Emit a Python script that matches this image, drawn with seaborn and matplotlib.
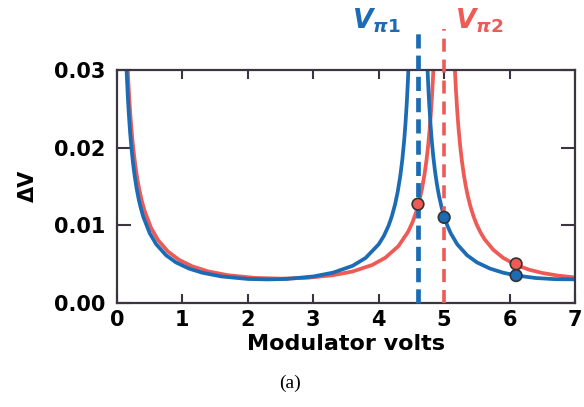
import matplotlib
matplotlib.use("Agg")
import matplotlib.pyplot as plt
import seaborn as sns
import pandas as pd

# ---- data ----
blue_x1 = [0.13, 0.15, 0.165, 0.18, 0.20, 0.22, 0.245, 0.27, 0.30, 0.33, 0.36, 0.40, 0.50, 0.60, 0.75, 0.90,
           1.10, 1.30, 1.60, 2.00, 2.30, 2.60, 3.00, 3.30, 3.60, 3.80, 4.00, 4.08, 4.15, 4.20, 4.25, 4.29,
           4.33, 4.36, 4.39, 4.41, 4.43, 4.445, 4.46, 4.48]
blue_y1 = [0.0338, 0.02935, 0.02667, 0.02447, 0.02203, 0.02004, 0.01802, 0.01636, 0.01474, 0.01342, 0.01233,
           0.01112, 0.00896, 0.00753, 0.00612, 0.00520, 0.00440, 0.00387, 0.00338, 0.00306, 0.00300, 0.00306,
           0.00338, 0.00387, 0.00475, 0.00577, 0.00753, 0.00863, 0.00991, 0.01112, 0.01267, 0.01428,
           0.01636, 0.01838, 0.02099, 0.02318, 0.02591, 0.02838, 0.03142, 0.0366]
blue_x2 = [4.72, 4.74, 4.755, 4.77, 4.79, 4.81, 4.835, 4.86, 4.89, 4.92, 4.96, 5.00, 5.05, 5.10, 5.20, 5.35,
           5.50, 5.70, 5.90, 6.10, 6.40, 6.70, 7.00]
blue_y2 = [0.0366, 0.03142, 0.02838, 0.02591, 0.02318, 0.02099, 0.01877, 0.01698, 0.01524, 0.01384, 0.01233,
           0.01112, 0.00992, 0.00896, 0.00753, 0.00612, 0.00520, 0.00440, 0.00387, 0.00351, 0.00318, 0.00303,
           0.00301]
red_x1 = [0.14, 0.16, 0.175, 0.19, 0.21, 0.23, 0.255, 0.28, 0.31, 0.34, 0.38, 0.42, 0.52, 0.63, 0.78, 0.95,
          1.15, 1.40, 1.70, 2.10, 2.50, 2.90, 3.30, 3.60, 3.90, 4.10, 4.30, 4.45, 4.52, 4.57, 4.62, 4.66,
          4.70, 4.73, 4.755, 4.78, 4.80, 4.82, 4.835, 4.85]
red_y1 = [0.0353, 0.0309, 0.02823, 0.0260, 0.02357, 0.02153, 0.01944, 0.01771, 0.01601, 0.01462, 0.01311,
          0.01189, 0.00966, 0.00804, 0.00659, 0.00552, 0.00469, 0.00402, 0.00354, 0.00320, 0.00310, 0.00320,
          0.00354, 0.00402, 0.00486, 0.00579, 0.00728, 0.00915, 0.01044, 0.01162, 0.01311, 0.01462,
          0.01654, 0.01837, 0.02022, 0.02250, 0.02472, 0.02746, 0.02995, 0.03294]
red_x2 = [5.15, 5.165, 5.18, 5.20, 5.22, 5.245, 5.27, 5.30, 5.33, 5.36, 5.40, 5.45, 5.50, 5.56, 5.62, 5.75,
          5.90, 6.10, 6.30, 6.50, 6.75, 7.00]
red_y2 = [0.03294, 0.02995, 0.02746, 0.02472, 0.02250, 0.02022, 0.01837, 0.01654, 0.01506, 0.01382, 0.01246,
          0.01111, 0.01003, 0.00899, 0.00816, 0.00683, 0.00579, 0.00486, 0.00425, 0.00383, 0.00348, 0.00326]

vpi = [4.6, 5.0]
vpi_labels = [r"$\boldsymbol{V}_{\boldsymbol{\pi}\mathbf{1}}$", r"$\boldsymbol{V}_{\boldsymbol{\pi}\mathbf{2}}$"]
marker_x = [4.6, 5.0, 6.1, 6.1]
marker_y = [0.0127, 0.0110, 0.0050, 0.0035]
marker_series = ["red", "blue", "red", "blue"]

x_ticks = [0, 1, 2, 3, 4, 5, 6, 7]
y_ticks = [0.00, 0.01, 0.02, 0.03]
y_ticklabels = ["0.00", "0.01", "0.02", "0.03"]

BLUE = "#1b6cb4"
RED = "#ee5a55"
palette = {"blue": BLUE, "red": RED}

frames = []
for xs, ys, s, seg in [(blue_x1, blue_y1, "blue", "b1"), (blue_x2, blue_y2, "blue", "b2"),
                       (red_x1, red_y1, "red", "r1"), (red_x2, red_y2, "red", "r2")]:
    frames.append(pd.DataFrame({"x": xs, "y": ys, "series": s, "seg": seg}))
df = pd.concat(frames, ignore_index=True)
mk = pd.DataFrame({"x": marker_x, "y": marker_y, "series": marker_series})

sns.set_style("ticks")
plt.rcParams["font.family"] = ["DejaVu Sans"]
plt.rcParams["text.color"] = "black"
plt.rcParams["axes.labelcolor"] = "black"
plt.rcParams["xtick.labelcolor"] = "black"
plt.rcParams["ytick.labelcolor"] = "black"

fig = plt.figure(figsize=(5.84, 4.07), dpi=100)
ax = fig.add_axes([0.2003, 0.2563, 0.7843, 0.5717])

# draw red first then blue on top
for s in ["red", "blue"]:
    sub = df[df.series == s]
    sns.lineplot(data=sub, x="x", y="y", units="seg", estimator=None, sort=False,
                 color=palette[s], lw=2.7, ax=ax, legend=False)

# dashed V_pi lines extending above the axes
for v, c in zip(vpi, [BLUE, RED]):
    ax.plot([v, v], [0, 0.0353], color=c, lw=3.4 if c == BLUE else 2.6,
            dashes=(3.0, 1.5) if c == BLUE else (3.6, 2.2), clip_on=False, zorder=3)

sns.scatterplot(data=mk, x="x", y="y", hue="series", palette=palette, s=70,
                edgecolor="#333333", linewidth=1.2, ax=ax, legend=False, zorder=5)

ax.text(3.97, 0.0364, vpi_labels[0], color=BLUE, fontsize=19, ha="center", va="center",
        clip_on=False)
ax.text(5.53, 0.0364, vpi_labels[1], color=RED, fontsize=19, ha="center", va="center",
        clip_on=False)

ax.set_xlim(0, 7)
ax.set_ylim(0, 0.03)
ax.set_xticks(x_ticks)
ax.set_xticklabels([str(t) for t in x_ticks], fontweight="bold", fontsize=15, color="black")
ax.set_yticks(y_ticks)
ax.set_yticklabels(y_ticklabels, fontweight="bold", fontsize=15, color="black")
ax.tick_params(axis="x", direction="in", length=6.5, width=1.5, top=True, pad=5, color="#3a3540")
ax.tick_params(axis="y", direction="in", length=10, width=1.5, right=True, pad=8, color="#3a3540")
ax.tick_params(axis="x", which="both", labeltop=False)
ax.tick_params(axis="y", which="both", labelright=False)
for sp in ax.spines.values():
    sp.set_visible(True)
    sp.set_linewidth(1.6)
    sp.set_color("#3a3540")

ax.set_xlabel("Modulator volts", fontsize=16, fontweight="bold", labelpad=3, color="black")
ax.set_ylabel("ΔV", fontsize=15, fontweight="bold", labelpad=12, color="black")

fig.text(0.497, 0.058, "(a)", fontsize=14, family="Liberation Serif", ha="center", va="center",
         color="black")

fig.savefig("out.png", dpi=100)
